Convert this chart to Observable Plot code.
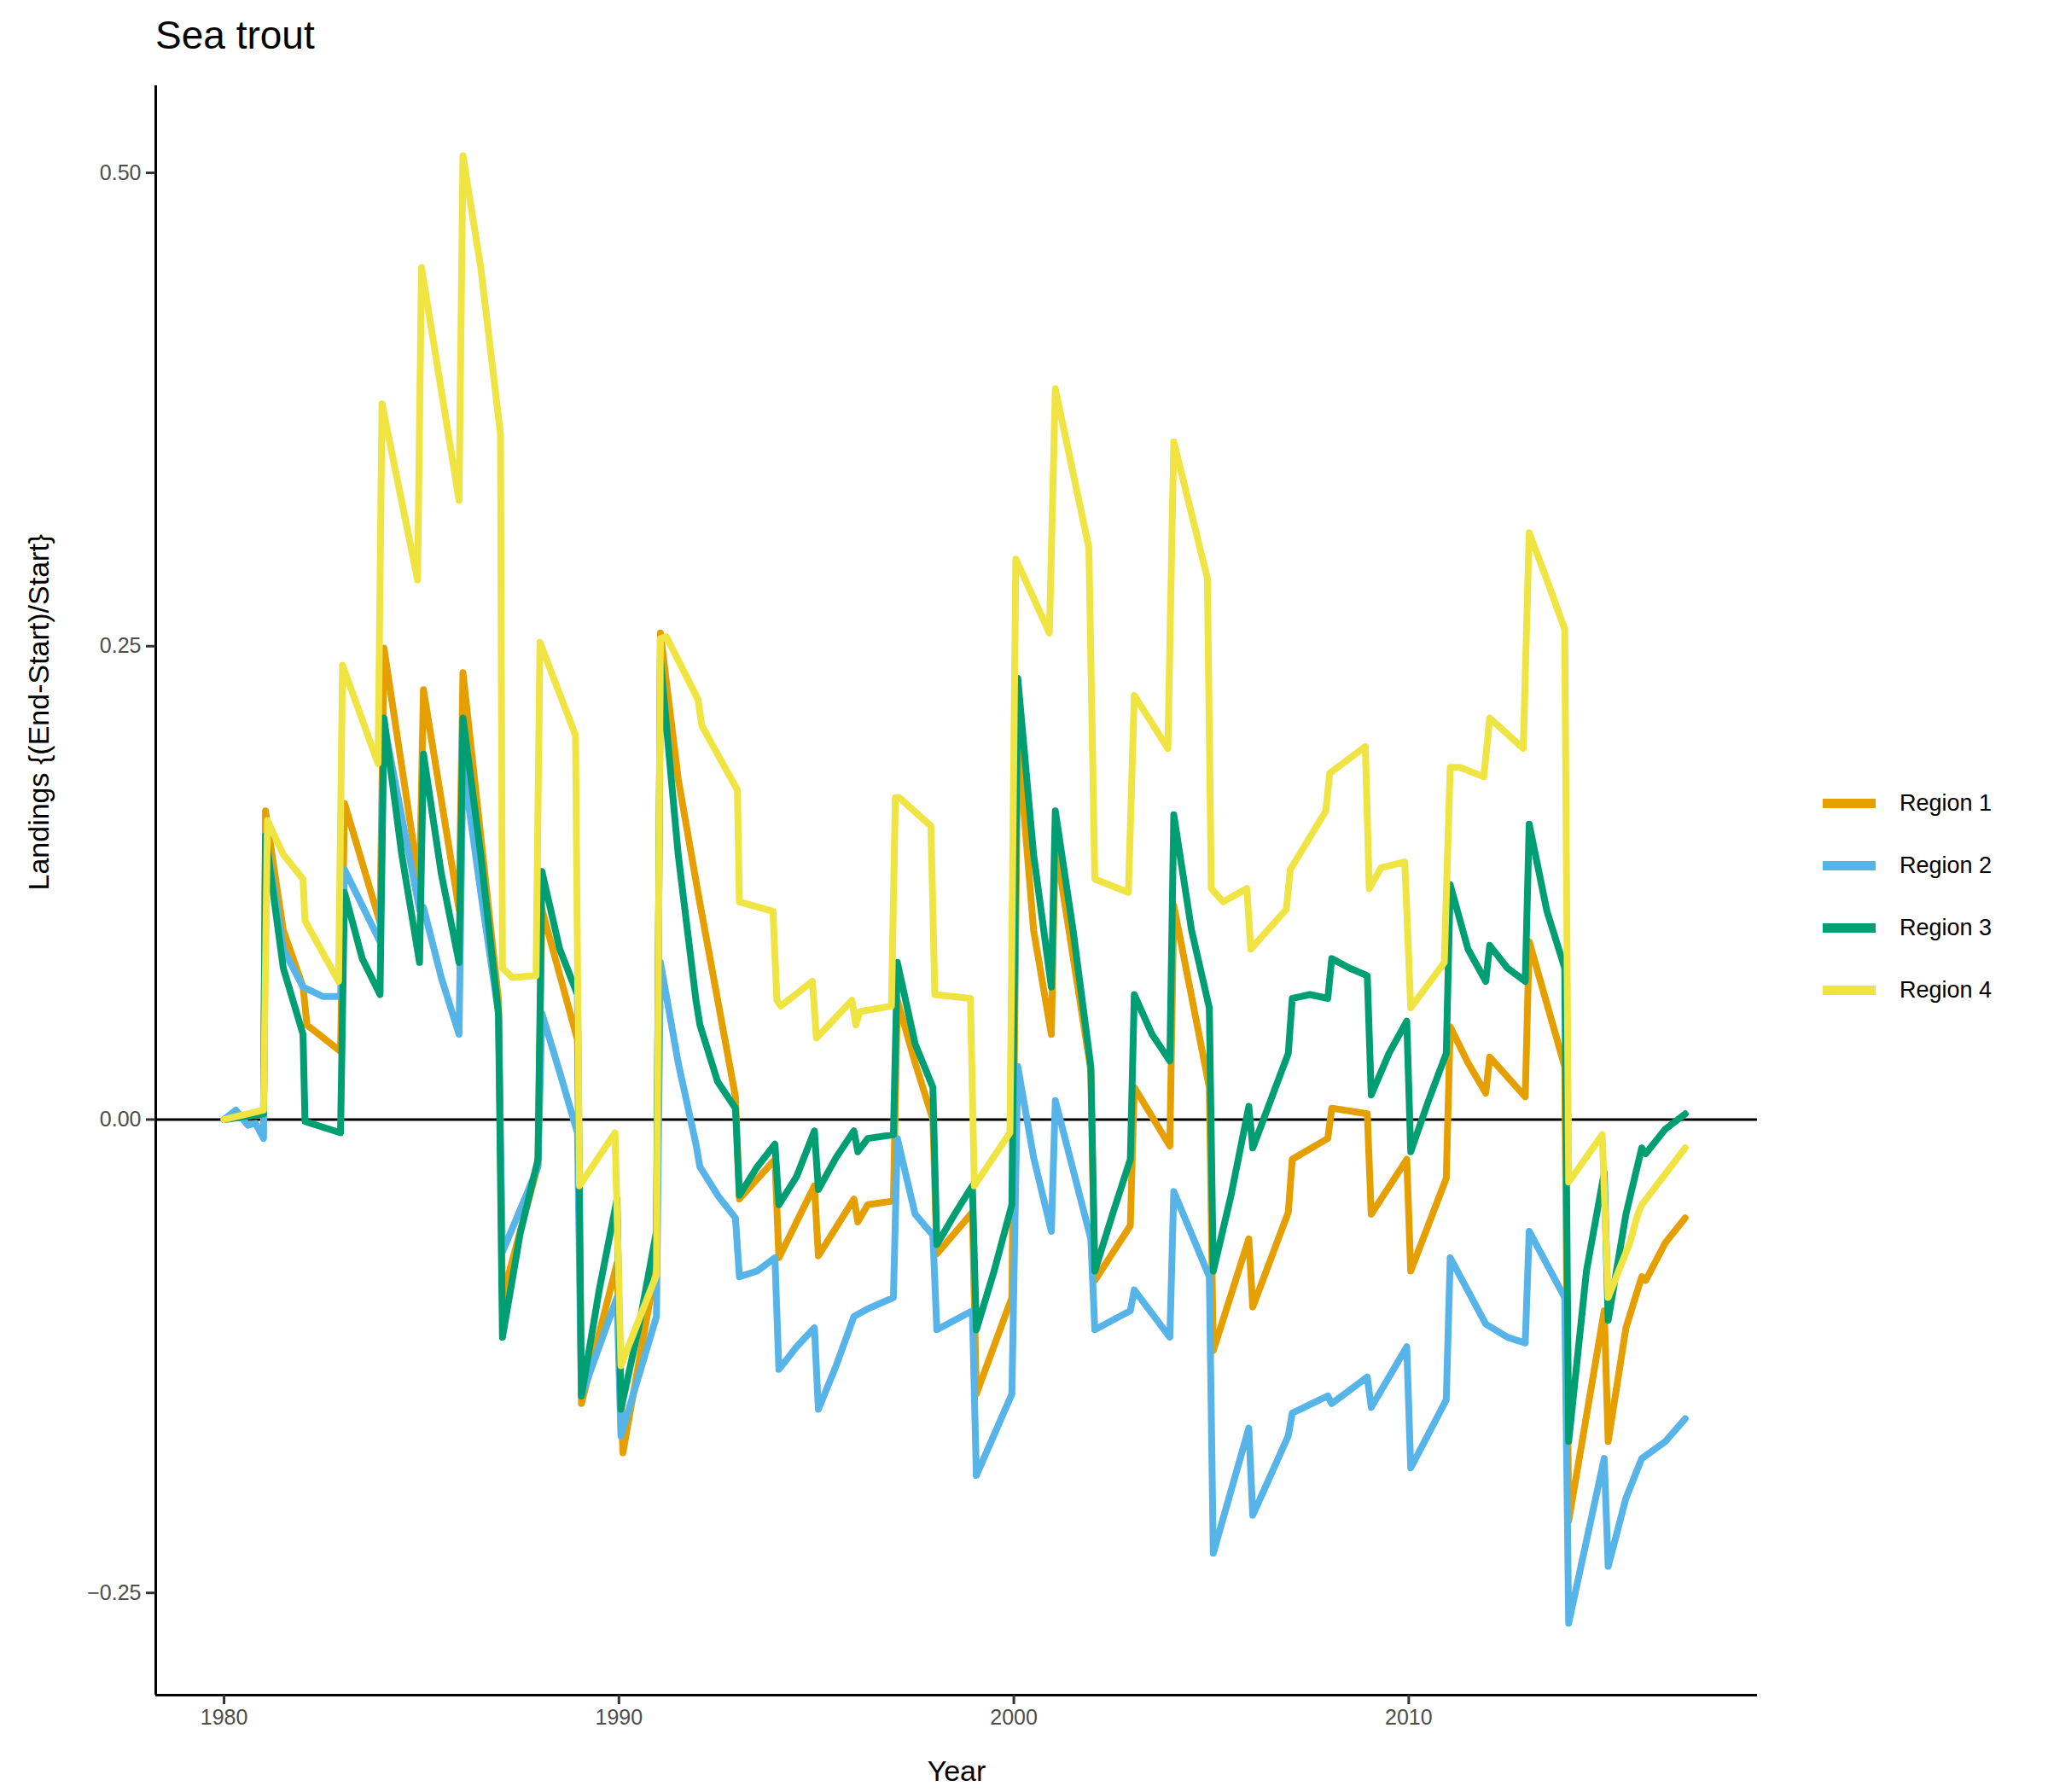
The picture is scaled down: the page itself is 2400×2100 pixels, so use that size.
<!DOCTYPE html>
<html>
<head>
<meta charset="utf-8">
<script src="https://cdn.jsdelivr.net/npm/d3@7"></script>
<script src="https://cdn.jsdelivr.net/npm/@observablehq/plot@0.6"></script>
<style>
  body { margin: 0; background: white; font-family: Arial, "Liberation Sans", sans-serif; }
  #wrap { position: relative; width: 2400px; height: 2100px; }
  #title { position: absolute; left: 182px; top: 14px; font-size: 46px; color: black; }
  #legend { position: absolute; left: 2136px; top: 905px; font-size: 27px; color: black; }
  .item { display: flex; align-items: center; height: 73px; }
  .sw { width: 62px; height: 11px; margin-right: 28px; }
</style>
</head>
<body>
<div id="wrap">
  <div id="chart"></div>
  <div id="title">Sea trout</div>
  <div id="legend"></div>
</div>
<script>
const regions = ["Region 1", "Region 2", "Region 3", "Region 4"]
const colors = ["#E69F00", "#56B4E9", "#009E73", "#F0E442"]
const yTicks = [-0.25, 0, 0.25, 0.5]
const xTicks = [1980, 1990, 2000, 2010]

// [year, value]
const region1 = [[1980,0],[1981,0.003],[1981.05,0.163],[1981.5,0.1],[1982,0.07],[1982.1,0.05],[1982.95,0.036],
[1983.05,0.167],[1983.95,0.104],[1984.05,0.249],[1984.95,0.124],[1985.05,0.227],[1985.95,0.111],[1986.05,0.236],[1986.5,0.15],[1986.95,0.063],
[1987.05,-0.094],[1987.95,-0.024],[1988.05,0.111],[1988.95,0.042],[1989.05,-0.15],[1989.95,-0.076],[1990.1,-0.176],[1990.95,-0.076],
[1991.05,0.257],[1991.5,0.18],[1992,0.12],[1992.95,0.012],[1993.05,-0.042],[1993.95,-0.021],[1994.05,-0.073],[1994.95,-0.035],
[1995.05,-0.072],[1995.95,-0.042],[1996.05,-0.054],[1996.3,-0.045],[1996.95,-0.043],[1997.05,0.063],[1997.5,0.03],[1997.95,0.0],
[1998.05,-0.071],[1998.95,-0.049],[1999.05,-0.145],[1999.95,-0.094],[2000.1,0.202],[2000.5,0.1],[2000.95,0.045],[2001.05,0.146],
[2001.95,0.026],[2002.05,-0.085],[2002.95,-0.056],[2003.05,0.017],[2003.95,-0.014],[2004.05,0.113],[2004.95,0.017],[2005.05,-0.122],
[2005.95,-0.063],[2006.05,-0.099],[2006.95,-0.049],[2007.05,-0.021],[2007.95,-0.01],[2008.05,0.006],[2008.95,0.003],[2009.05,-0.05],
[2009.95,-0.021],[2010.05,-0.08],[2010.95,-0.031],[2011.05,0.049],[2011.5,0.03],[2011.95,0.014],[2012.05,0.033],[2012.95,0.012],
[2013.05,0.094],[2013.95,0.028],[2014.05,-0.212],[2014.95,-0.101],[2015.05,-0.17],[2015.5,-0.11],[2015.9,-0.083],[2016,-0.085],[2016.5,-0.065],[2017,-0.052]]

const region2 = [[1980,0],[1980.3,0.005],[1980.6,-0.003],[1980.8,-0.002],[1981,-0.01],[1981.05,0.15],[1981.5,0.09],[1982,0.07],[1982.5,0.065],[1982.95,0.065],
[1983.05,0.132],[1983.95,0.094],[1984.05,0.209],[1984.95,0.111],[1985.05,0.112],[1985.5,0.075],[1985.95,0.045],[1986.05,0.188],[1986.5,0.12],[1986.95,0.056],
[1987.05,-0.07],[1987.95,-0.025],[1988.05,0.056],[1988.5,0.025],[1988.95,-0.007],[1989.05,-0.146],[1989.95,-0.094],[1990.05,-0.167],[1990.95,-0.104],
[1991.05,0.083],[1991.5,0.03],[1991.95,-0.013],[1992.05,-0.025],[1992.5,-0.04],[1992.95,-0.052],[1993.05,-0.083],[1993.5,-0.08],[1993.95,-0.073],
[1994.05,-0.132],[1994.5,-0.12],[1994.95,-0.11],[1995.05,-0.153],[1995.5,-0.13],[1995.95,-0.104],[1996.3,-0.1],[1996.95,-0.094],[1997.05,-0.01],
[1997.5,-0.05],[1997.95,-0.061],[1998.05,-0.111],[1998.95,-0.101],[1999.05,-0.188],[1999.95,-0.145],[2000.1,0.028],[2000.5,-0.02],[2000.95,-0.059],
[2001.05,0.01],[2001.95,-0.063],[2002.05,-0.111],[2002.95,-0.101],[2003.05,-0.09],[2003.95,-0.115],[2004.05,-0.038],[2004.95,-0.083],
[2005.05,-0.229],[2005.95,-0.163],[2006.05,-0.209],[2006.95,-0.167],[2007.05,-0.155],[2007.95,-0.146],[2008.05,-0.15],[2008.95,-0.136],
[2009.05,-0.152],[2009.95,-0.12],[2010.05,-0.184],[2010.95,-0.148],[2011.05,-0.073],[2011.95,-0.108],[2012.5,-0.115],[2012.95,-0.118],
[2013.05,-0.059],[2013.95,-0.094],[2014.05,-0.266],[2014.95,-0.179],[2015.05,-0.236],[2015.5,-0.2],[2015.9,-0.179],[2016.5,-0.17],[2017,-0.158]]

const region3 = [[1980,0],[1981,0.003],[1981.05,0.15],[1981.5,0.08],[1982,0.045],[1982.05,-0.001],[1982.95,-0.007],
[1983.05,0.12],[1983.5,0.085],[1983.95,0.066],[1984.05,0.212],[1984.5,0.14],[1984.95,0.083],[1985.05,0.193],[1985.5,0.13],[1985.95,0.083],
[1986.05,0.212],[1986.5,0.14],[1986.95,0.056],[1987.05,-0.115],[1987.5,-0.06],[1987.95,-0.021],[1988.05,0.131],[1988.5,0.09],[1988.95,0.066],
[1989.05,-0.146],[1989.5,-0.09],[1989.95,-0.042],[1990.05,-0.153],[1990.5,-0.11],[1990.95,-0.059],[1991.05,0.243],[1991.5,0.14],[1991.95,0.063],
[1992.05,0.05],[1992.5,0.02],[1992.95,0.006],[1993.05,-0.04],[1993.5,-0.025],[1993.95,-0.013],[1994.05,-0.045],[1994.5,-0.03],[1994.95,-0.006],
[1995.05,-0.037],[1995.5,-0.02],[1995.95,-0.006],[1996.05,-0.017],[1996.3,-0.01],[1996.95,-0.008],[1997.05,0.083],[1997.5,0.04],[1997.95,0.017],
[1998.05,-0.066],[1998.5,-0.05],[1998.95,-0.035],[1999.05,-0.111],[1999.5,-0.08],[1999.95,-0.045],[2000.1,0.233],[2000.5,0.14],[2000.95,0.07],
[2001.05,0.163],[2001.5,0.1],[2001.95,0.028],[2002.05,-0.08],[2002.5,-0.05],[2002.95,-0.021],[2003.05,0.066],[2003.5,0.045],[2003.95,0.031],
[2004.05,0.161],[2004.5,0.1],[2004.95,0.059],[2005.05,-0.08],[2005.5,-0.04],[2005.95,0.007],[2006.05,-0.015],[2006.5,0.01],[2006.95,0.035],
[2007.05,0.064],[2007.5,0.066],[2007.95,0.064],[2008.05,0.085],[2008.5,0.08],[2008.95,0.076],[2009.05,0.013],[2009.5,0.035],[2009.95,0.052],
[2010.05,-0.017],[2010.5,0.01],[2010.95,0.035],[2011.05,0.124],[2011.5,0.09],[2011.95,0.073],[2012.05,0.092],[2012.5,0.08],[2012.95,0.073],
[2013.05,0.156],[2013.5,0.11],[2013.95,0.08],[2014.05,-0.17],[2014.5,-0.08],[2014.95,-0.028],[2015.05,-0.106],[2015.5,-0.05],[2015.9,-0.015],
[2016,-0.018],[2016.5,-0.005],[2017,0.003]]

const region4 = [[1980,0],[1981,0.005],[1981.1,0.158],[1981.5,0.14],[1982,0.127],[1982.05,0.105],[1982.9,0.073],[1983,0.24],[1983.9,0.188],
[1984,0.378],[1984.9,0.285],[1985,0.45],[1985.95,0.327],[1986.05,0.509],[1986.5,0.45],[1987,0.362],[1987.05,0.08],[1987.3,0.075],[1987.9,0.076],
[1988,0.252],[1988.9,0.203],[1989,-0.035],[1989.9,-0.007],[1990.05,-0.13],[1990.95,-0.082],[1991.05,0.254],[1991.2,0.255],[1992,0.222],
[1992.1,0.208],[1993,0.174],[1993.05,0.115],[1993.9,0.11],[1994,0.063],[1994.1,0.06],[1994.9,0.073],[1995,0.043],[1995.9,0.063],[1996,0.05],
[1996.1,0.057],[1996.9,0.06],[1997,0.17],[1997.1,0.17],[1997.9,0.155],[1998,0.066],[1998.9,0.064],[1999,-0.035],[1999.9,-0.007],
[2000.05,0.296],[2000.9,0.257],[2001.05,0.386],[2001.9,0.302],[2002.05,0.127],[2002.9,0.12],[2003.05,0.224],[2003.9,0.196],[2004.05,0.358],
[2004.9,0.286],[2005,0.122],[2005.3,0.115],[2005.9,0.122],[2006,0.09],[2006.9,0.111],[2007,0.132],[2007.9,0.163],[2008,0.183],[2008.9,0.197],
[2009,0.122],[2009.3,0.133],[2009.9,0.136],[2010.05,0.059],[2010.9,0.083],[2011.05,0.186],[2011.3,0.186],[2011.9,0.181],[2012.05,0.212],
[2012.9,0.196],[2013.05,0.31],[2013.5,0.285],[2013.95,0.259],[2014.05,-0.033],[2014.9,-0.008],[2015.05,-0.094],[2015.6,-0.065],[2015.8,-0.05],
[2015.9,-0.045],[2017,-0.015]]

const series = [region1, region2, region3, region4]
const data = series.flatMap((s, i) => s.map(([year, value]) => ({year, value, region: regions[i]})))

const xDom = [1978.27, 2018.83]
const yDom = [-0.304, 0.546]

const chart = Plot.plot({
  width: 2400,
  height: 2100,
  marginLeft: 182,
  marginRight: 341,
  marginTop: 100,
  marginBottom: 114,
  style: { fontFamily: 'Arial, "Liberation Sans", sans-serif', fontSize: 25, color: "#4d4d4d", background: "white" },
  x: { domain: xDom, ticks: xTicks, tickFormat: "d", label: null },
  y: { domain: yDom, ticks: yTicks, tickFormat: ".2f", label: null },
  color: { domain: regions, range: colors },
  marks: [
    Plot.ruleY([0], { stroke: "black", strokeWidth: 3 }),
    Plot.line(data, { x: "year", y: "value", z: "region", stroke: "region", strokeWidth: 8, strokeLinejoin: "round" }),
    Plot.ruleX([xDom[0]], { stroke: "black", strokeWidth: 3 }),
    Plot.ruleY([yDom[0]], { stroke: "black", strokeWidth: 3 }),
    Plot.axisX({ ticks: xTicks, tickFormat: "d", tickSize: 11, tickPadding: 6, stroke: "#333", strokeWidth: 3, fill: "#4d4d4d", fontSize: 25, label: null }),
    Plot.axisY({ ticks: yTicks, tickFormat: ".2f", tickSize: 11, tickPadding: 6, stroke: "#333", strokeWidth: 3, fill: "#4d4d4d", fontSize: 25, label: null }),
    Plot.text(["Year"], { frameAnchor: "bottom", dy: 100, fontSize: 34, fill: "black" }),
    Plot.text(["Landings {(End-Start)/Start}"], { frameAnchor: "left", dx: -136, rotate: -90, fontSize: 34, fill: "black" })
  ]
})
d3.select("#chart").append(() => chart)

const legend = d3.select("#legend")
regions.forEach((r, i) => {
  const item = legend.append("div").attr("class", "item")
  item.append("div").attr("class", "sw").style("background", colors[i])
  item.append("span").text(r)
})
</script>
</body>
</html>
